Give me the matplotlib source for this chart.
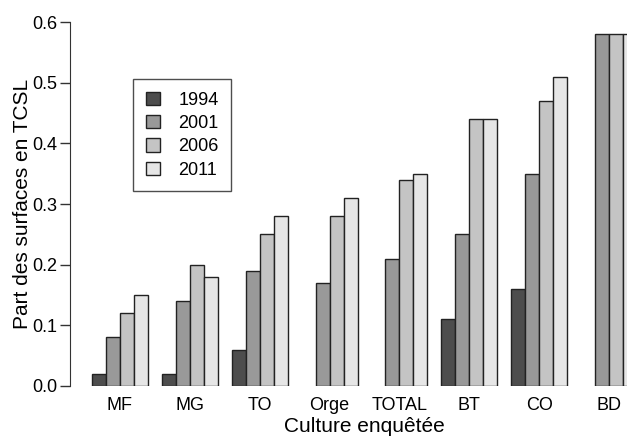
import matplotlib.pyplot as plt
import numpy as np

plt.rcParams["font.family"] = ["Liberation Sans", "DejaVu Sans"]

CULTURES = ["MF", "MG", "TO", "Orge", "TOTAL", "BT", "CO", "BD"]
YEARS = ["1994", "2001", "2006", "2011"]
SHARE_1994 = [0.02, 0.02, 0.06, np.nan, np.nan, 0.11, 0.16, np.nan]
SHARE_2001 = [0.08, 0.14, 0.19, 0.17, 0.21, 0.25, 0.35, 0.58]
SHARE_2006 = [0.12, 0.20, 0.25, 0.28, 0.34, 0.44, 0.47, 0.58]
SHARE_2011 = [0.15, 0.18, 0.28, 0.31, 0.35, 0.44, 0.51, 0.58]
COLORS = ["#4d4d4d", "#999999", "#c4c4c4", "#e6e6e6"]

W, H = 627, 441
fig = plt.figure(figsize=(W / 100, H / 100), dpi=100)
# axes runs past the right edge of the figure, like the clipped original
ax = fig.add_axes([70 / W, (H - 386) / H, 589 / W, (386 - 22) / H])

series = [SHARE_1994, SHARE_2001, SHARE_2006, SHARE_2011]
n = len(CULTURES)
starts = 1 + 5 * np.arange(n)
for k, (vals, col, yr) in enumerate(zip(series, COLORS, YEARS)):
    ax.bar(starts + k, vals, width=1.0, align="edge", color=col,
           edgecolor="#222222", linewidth=1.0, label=yr)

for s in ["top", "right", "bottom"]:
    ax.spines[s].set_visible(False)
ax.spines["left"].set_bounds(0, 0.6)
ax.spines["left"].set_color("#333333")

ax.set_xlim(-0.56, 41.56)
ax.set_ylim(0, 0.6)
ax.set_xticks(starts + 2)
ax.set_xticklabels(CULTURES)
ax.tick_params(axis="x", length=0, pad=8, labelsize=13)
ax.set_yticks([0.0, 0.1, 0.2, 0.3, 0.4, 0.5, 0.6])
ax.set_yticklabels(["0.0", "0.1", "0.2", "0.3", "0.4", "0.5", "0.6"])
ax.tick_params(axis="y", length=7, width=1.0, pad=2, color="#333333", labelsize=13)

ax.set_ylabel("Part des surfaces en TCSL", fontsize=15, labelpad=0.5)
ax.set_xlabel("Culture enquêtée", fontsize=15, labelpad=2)

leg = ax.legend(loc="upper left", bbox_to_anchor=((133 - 70) / 589, (386 - 79) / 364),
                fontsize=13, frameon=True, fancybox=False, edgecolor="#222222",
                borderpad=0.7, handlelength=0.8, handleheight=0.75,
                handletextpad=1.0, labelspacing=0.35, borderaxespad=0)
leg.get_frame().set_linewidth(1.0)

fig.savefig("out.png", dpi=100)
